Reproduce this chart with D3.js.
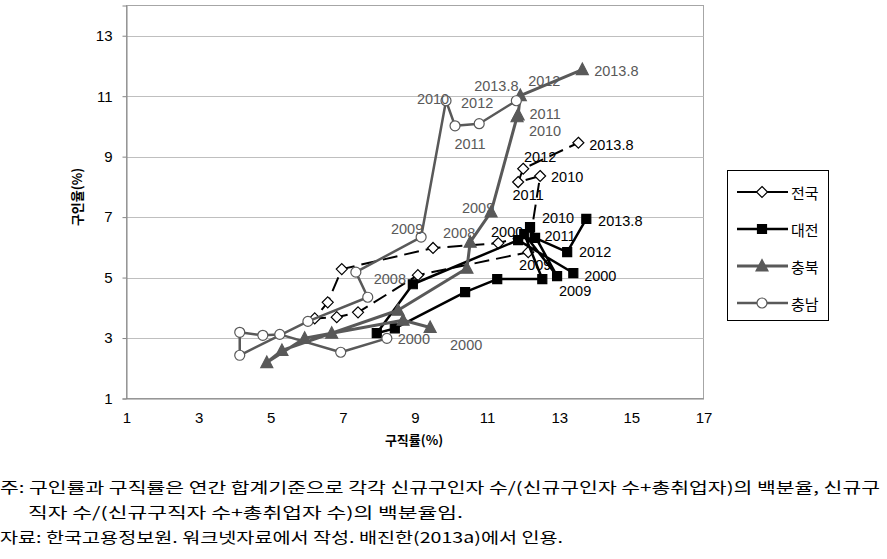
<!DOCTYPE html>
<html><head><meta charset="utf-8">
<script src="https://cdn.jsdelivr.net/npm/d3@7"></script>
<style>body{margin:0;background:#fff}svg{display:block}</style>
</head><body>
<svg id="c" width="887" height="559"></svg>
<script>
// ---------- data ----------
const years = ["2000","2001","2002","2003","2004","2005","2006","2007","2008","2009","2010","2011","2012","2013.8"];
const seriesNames = ["전국","대전","충북","충남"];
// 구직률 (x) and 구인율 (y), %
const jeongukX = [12.11,11.31,9.50,6.97,6.58,6.22,6.83,7.42,9.08,12.14,12.47,11.86,12.00,13.53];
const jeongukY = [6.41,6.14,5.98,5.28,4.18,3.65,3.69,3.85,5.08,5.84,8.36,8.16,8.60,9.46];
const daejeonX = [13.39,11.86,8.94,7.94,8.44,10.39,11.28,12.53,12.03,12.94,12.19,12.33,13.22,13.75];
const daejeonY = [5.15,6.24,4.78,3.16,3.32,4.52,4.95,4.95,6.44,5.05,6.67,6.31,5.84,6.94];
const chungbukX = [9.42,8.67,6.69,5.94,4.89,5.31,8.53,10.44,10.53,11.11,11.83,11.86,11.92,13.64];
const chungbukY = [3.35,3.59,3.16,2.99,2.19,2.59,3.92,5.31,6.17,7.17,10.32,10.38,11.02,11.88];
const chungnamX = [8.22,6.94,5.25,4.78,4.14,4.14,6.03,7.69,7.36,9.17,9.86,10.11,10.78,11.81];
const chungnamY = [2.99,2.53,3.12,3.09,3.19,2.43,3.55,4.35,5.18,6.34,10.85,10.02,10.09,10.85];
const xTicks = [1,3,5,7,9,11,13,15,17];
const yTicks = [1,3,5,7,9,11,13];
const xTitle = "구직률(%)";
const yTitle = "구인율(%)";
const notes = [
  "주: 구인률과 구직률은 연간 합계기준으로 각각 신규구인자 수/(신규구인자 수+총취업자)의 백분율, 신규구",
  "직자 수/(신규구직자 수+총취업자 수)의 백분율임.",
  "자료: 한국고용정보원. 워크넷자료에서 작성. 배진한(2013a)에서 인용."
];
// which points carry a year label (offset of label centre from the point, px)
const labelSpecs = [
  {s:"충남",y:"2000",dx:27,dy:1},{s:"충남",y:"2008",dx:34,dy:7},{s:"충남",y:"2009",dx:-14,dy:-8},
  {s:"충남",y:"2010",dx:-13,dy:-2},{s:"충남",y:"2011",dx:15,dy:18},{s:"충남",y:"2012",dx:-2,dy:-21},
  {s:"충남",y:"2013.8",dx:-20,dy:-15},
  {s:"충북",y:"2000",dx:36,dy:18},{s:"충북",y:"2008",dx:-11,dy:-9},{s:"충북",y:"2009",dx:-13,dy:-4},
  {s:"충북",y:"2010",dx:28,dy:14},{s:"충북",y:"2011",dx:27,dy:-1},{s:"충북",y:"2012",dx:24,dy:-15},
  {s:"충북",y:"2013.8",dx:34,dy:1},
  {s:"전국",y:"2000",dx:-20,dy:-3},{s:"전국",y:"2009",dx:7,dy:13},{s:"전국",y:"2010",dx:27,dy:1},
  {s:"전국",y:"2011",dx:10,dy:13},{s:"전국",y:"2012",dx:17,dy:-12},{s:"전국",y:"2013.8",dx:33,dy:2},
  {s:"대전",y:"2000",dx:27,dy:3},{s:"대전",y:"2009",dx:18,dy:15},{s:"대전",y:"2010",dx:28,dy:-9},
  {s:"대전",y:"2011",dx:25,dy:-2},{s:"대전",y:"2012",dx:28,dy:0},{s:"대전",y:"2013.8",dx:34,dy:2}
];

// ---------- build ----------
const seriesX = [jeongukX,daejeonX,chungbukX,chungnamX];
const seriesY = [jeongukY,daejeonY,chungbukY,chungnamY];
const series = seriesNames.map((n,i)=>({name:n, pts: years.map((yr,j)=>({year:yr,x:seriesX[i][j],y:seriesY[i][j]}))}));

const GRAY = "#595959";
const styles = {
  "전국":{stroke:"#000",width:2,dash:"15,7",marker:"diamond",fill:"#fff",mstroke:"#000",label:"#000"},
  "대전":{stroke:"#000",width:2.5,dash:null,marker:"square",fill:"#000",mstroke:"#000",label:"#000"},
  "충북":{stroke:GRAY,width:3,dash:null,marker:"triangle",fill:GRAY,mstroke:GRAY,label:GRAY},
  "충남":{stroke:GRAY,width:2.5,dash:null,marker:"circle",fill:"#fff",mstroke:GRAY,label:GRAY}
};
const markerPath = {
  diamond:"M0,-5.5L5.5,0L0,5.5L-5.5,0Z",
  square:"M-4.5,-4.5H4.5V4.5H-4.5Z",
  triangle:"M0,-6.5L6,5L-6,5Z",
  circle:d3.symbol().type(d3.symbolCircle).size(Math.PI*25)()
};

const svg = d3.select("#c");
const x = d3.scaleLinear().domain([1,17]).range([126.5,703.5]);
const y = d3.scaleLinear().domain([1,14]).range([398.5,5.5]);
const FONT = "'Liberation Sans', Arial, sans-serif";
const KFONT = "'Noto Sans CJK KR', sans-serif";

// plot area border
svg.append("rect").attr("x",126.5).attr("y",5.5).attr("width",577).attr("height",393)
  .attr("fill","none").attr("stroke","#a6a6a6").attr("stroke-width",1);
// grid
svg.append("g").selectAll("line").data(yTicks.filter(t=>t>1)).join("line")
  .attr("x1",x(1)).attr("x2",x(17)).attr("y1",d=>Math.round(y(d))+0.5).attr("y2",d=>Math.round(y(d))+0.5)
  .attr("stroke","#bfbfbf").attr("stroke-width",1);

// axes
const ax = svg.append("g").attr("transform",`translate(0,${y(1)})`)
  .call(d3.axisBottom(x).tickValues(xTicks).tickSize(0).tickPadding(14).tickFormat(d3.format("d")));
ax.select(".domain").attr("stroke","#868686");
ax.selectAll("text").attr("font-family",FONT).attr("font-size",15).attr("fill","#000");
const ay = svg.append("g").attr("transform",`translate(${x(1)},0)`)
  .call(d3.axisLeft(y).tickValues(yTicks).tickSize(4).tickPadding(10).tickFormat(d3.format("d")));
ay.select(".domain").attr("stroke","#868686");
ay.selectAll(".tick line").attr("stroke","#868686");
ay.selectAll("text").attr("font-family",FONT).attr("font-size",15).attr("fill","#000");

svg.append("text").attr("x",414).attr("y",445).attr("text-anchor","middle")
  .attr("font-family",KFONT).attr("font-size",13).attr("font-weight","bold").text(xTitle);
svg.append("text").attr("transform","translate(82,197) rotate(-90)").attr("text-anchor","middle")
  .attr("font-family",KFONT).attr("font-size",13).attr("font-weight","bold").text(yTitle);

// series
const line = d3.line().x(d=>x(d.x)).y(d=>y(d.y));
series.forEach(s=>{
  const st = styles[s.name];
  const g = svg.append("g");
  g.append("path").datum(s.pts).attr("d",line).attr("fill","none")
    .attr("stroke",st.stroke).attr("stroke-width",st.width).attr("stroke-dasharray",st.dash)
    .attr("stroke-linejoin","round");
  g.selectAll("path.m").data(s.pts).join("path").attr("class","m")
    .attr("transform",d=>`translate(${x(d.x)},${y(d.y)})`)
    .attr("d",markerPath[st.marker]).attr("fill",st.fill).attr("stroke",st.mstroke).attr("stroke-width",1.2);
});

// labels
labelSpecs.forEach(l=>{
  const s = series.find(q=>q.name===l.s);
  const p = s.pts.find(q=>q.year===l.y);
  svg.append("text").attr("x",x(p.x)+l.dx).attr("y",y(p.y)+l.dy)
    .attr("text-anchor","middle").attr("dominant-baseline","central")
    .attr("font-family",FONT).attr("font-size",14.5).attr("fill",styles[l.s].label).text(l.y);
});

// legend
const lg = svg.append("g");
lg.append("rect").attr("x",727.5).attr("y",170.5).attr("width",101).attr("height",150)
  .attr("fill","#fff").attr("stroke","#000").attr("stroke-width",1);
seriesNames.forEach((n,i)=>{
  const st = styles[n];
  const cy = 192 + i*37;
  lg.append("line").attr("x1",737).attr("x2",788).attr("y1",cy).attr("y2",cy)
    .attr("stroke",st.stroke).attr("stroke-width",st.width);
  lg.append("path").attr("transform",`translate(762,${cy})`).attr("d",markerPath[st.marker])
    .attr("fill",st.fill).attr("stroke",st.mstroke).attr("stroke-width",1.2);
  lg.append("text").attr("x",791).attr("y",cy).attr("dominant-baseline","central")
    .attr("font-family",KFONT).attr("font-size",15).text(n);
});

// notes
const noteX = [0,28,0], noteY=[493,518,543], noteW=[880,435,563];
notes.forEach((t,i)=>{
  svg.append("text").attr("x",noteX[i]).attr("y",noteY[i]).attr("font-family",KFONT)
    .attr("font-size",15).attr("textLength",noteW[i]).attr("lengthAdjust","spacingAndGlyphs").text(t);
});
</script>
</body></html>
